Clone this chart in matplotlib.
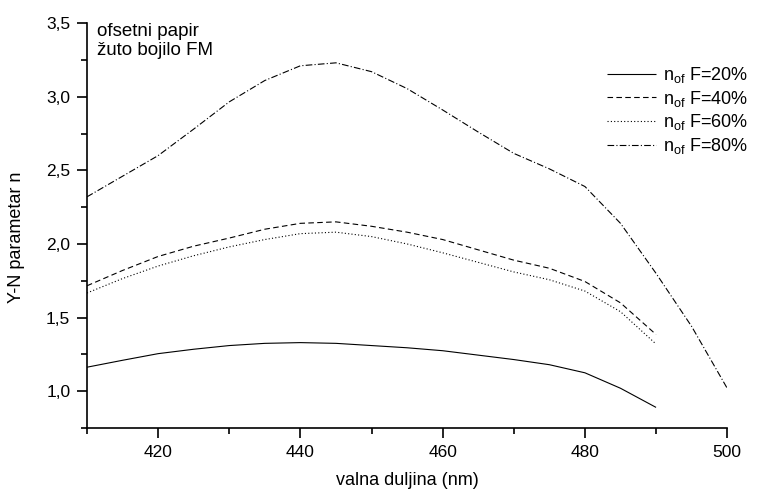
import matplotlib
matplotlib.use("Agg")
import matplotlib.pyplot as plt
from matplotlib.ticker import FuncFormatter, MultipleLocator

plt.rcParams["font.family"] = ["Liberation Sans", "DejaVu Sans"]
plt.rcParams["mathtext.fontset"] = "custom"
plt.rcParams["mathtext.rm"] = "Liberation Sans"

wavelength = [410, 415, 420, 425, 430, 435, 440, 445, 450, 455,
              460, 465, 470, 475, 480, 485, 490, 495, 500]

n_20 = [1.163, 1.21, 1.255, 1.285, 1.31, 1.325, 1.33, 1.325, 1.31, 1.295,
        1.275, 1.245, 1.215, 1.18, 1.125, 1.02, 0.89]
n_40 = [1.716, 1.82, 1.915, 1.985, 2.04, 2.10, 2.14, 2.15, 2.12, 2.08,
        2.03, 1.96, 1.89, 1.835, 1.745, 1.60, 1.385]
n_60 = [1.667, 1.765, 1.85, 1.92, 1.98, 2.03, 2.07, 2.08, 2.05, 2.00,
        1.94, 1.875, 1.81, 1.757, 1.68, 1.54, 1.32]
n_80 = [2.32, 2.46, 2.60, 2.78, 2.965, 3.11, 3.21, 3.23, 3.17, 3.055,
        2.91, 2.76, 2.615, 2.51, 2.39, 2.14, 1.80, 1.44, 1.02]

labels = ["20%", "40%", "60%", "80%"]

fig = plt.figure(figsize=(7.59, 4.93), dpi=100)
ax = fig.add_axes([0.1146, 0.1318, 0.8435, 0.8214])

# solid, dashed, dotted, dash-dot like the original Origin plot
styles = [(0, ()), (0, (5, 3)), (0, (1, 2)), (0, (6, 2, 1, 2))]
for ys, ls, lab in zip([n_20, n_40, n_60, n_80], styles, labels):
    ax.plot(wavelength[:len(ys)], ys, color="black", lw=0.8, linestyle=ls,
            label=r"n$_{\mathrm{of}}$ F=" + lab)

ax.set_xlim(410, 500)
ax.set_ylim(0.75, 3.5)
ax.spines["top"].set_visible(False)
ax.spines["right"].set_visible(False)
ax.spines["left"].set_linewidth(1.2)
ax.spines["bottom"].set_linewidth(1.2)

ax.xaxis.set_minor_locator(MultipleLocator(10))
ax.yaxis.set_major_locator(MultipleLocator(0.5))
ax.yaxis.set_minor_locator(MultipleLocator(0.25))
ax.set_xticks([420, 440, 460, 480, 500])
ax.yaxis.set_major_formatter(FuncFormatter(lambda v, p: f"{v:.1f}".replace(".", ",")))
ax.tick_params(which="major", direction="out", length=7, width=1.2,
               labelsize=12.5, pad=5)
ax.tick_params(which="minor", direction="out", length=4, width=1.2)

ax.set_xlabel("valna duljina (nm)", fontsize=13, labelpad=9)
ax.set_ylabel("Y-N parametar n", fontsize=13)
ax.yaxis.set_label_coords(-0.097, 0.47)

ax.text(10 / 640, 1.0, "ofsetni papir\nžuto bojilo FM", transform=ax.transAxes,
        ha="left", va="top", fontsize=13.5, linespacing=1.15)

ax.legend(loc="upper left", bbox_to_anchor=(607 / 759, 1 - 65 / 493),
          bbox_transform=fig.transFigure, frameon=False, fontsize=13,
          handlelength=2.7, handletextpad=0.4, labelspacing=0.2,
          borderpad=0.0, borderaxespad=0.0)

fig.savefig("out.png", dpi=100, facecolor="white")
